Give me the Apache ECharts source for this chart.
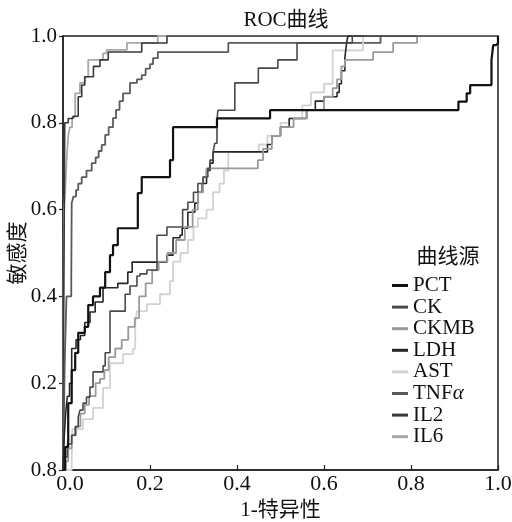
<!DOCTYPE html>
<html>
<head>
<meta charset="utf-8">
<script src="https://cdn.jsdelivr.net/npm/echarts@6/dist/echarts.min.js"></script>
<style>
html,body{margin:0;padding:0;background:#fff;}
#container{width:512px;height:522px;}
</style>
</head>
<body>
<div id="container"></div>
<script>
// 曲线名称与颜色
var curveNames = ['PCT', 'CK', 'CKMB', 'LDH', 'AST', 'TNFα', 'IL2', 'IL6'];
var curveColors = ['#111111', '#4a4a4a', '#9a9a9a', '#262626', '#d2d2d2', '#5a5a5a', '#383838', '#a8a8a8'];
var curveWidths = [2.2, 1.6, 1.8, 1.6, 1.8, 1.8, 1.6, 1.8];

// 刻度
var xTickLabels = ['0.0', '0.2', '0.4', '0.6', '0.8', '1.0'];
var yTickLabels = ['0.8', '0.2', '0.4', '0.6', '0.8', '1.0'];

// [1-特异性, 敏感度]
var pctRoc = [[0,0],[0.005,0.053],[0.012,0.154],[0.02,0.23],[0.028,0.27],[0.035,0.316],[0.05,0.33],[0.058,0.38],
	[0.069,0.40],[0.085,0.42],[0.097,0.456],[0.108,0.495],[0.115,0.518],[0.126,0.557],[0.172,0.638],[0.181,0.675],
	[0.246,0.714],[0.253,0.79],[0.354,0.81],[0.476,0.829],[0.909,0.849],[0.928,0.868],[0.936,0.887],[0.985,0.945],
	[0.989,0.979],[0.995,0.983],[1,1]];
var ckRoc = [[0,0],[0.005,0.03],[0.01,0.06],[0.02,0.08],[0.028,0.1],[0.035,0.122],[0.039,0.138],[0.046,0.154],
	[0.054,0.168],[0.062,0.191],[0.069,0.226],[0.092,0.24],[0.097,0.27],[0.108,0.366],[0.143,0.405],[0.154,0.424],
	[0.17,0.447],[0.177,0.452],[0.193,0.461],[0.216,0.541],[0.239,0.56],[0.275,0.6],[0.287,0.617],[0.3,0.64],
	[0.31,0.66],[0.322,0.675],[0.333,0.695],[0.338,0.714],[0.345,0.733],[0.349,0.753],[0.354,0.806],[0.356,0.829],
	[0.395,0.892],[0.449,0.926],[0.494,0.945],[0.538,0.984],[0.665,1],[1,1]];
var ckmbRoc = [[0,0],[0.006,0.02],[0.012,0.05],[0.02,0.08],[0.03,0.1],[0.04,0.13],[0.05,0.15],[0.06,0.17],
	[0.075,0.2],[0.085,0.21],[0.095,0.23],[0.105,0.26],[0.12,0.28],[0.135,0.3],[0.15,0.33],[0.165,0.35],
	[0.175,0.4],[0.19,0.43],[0.205,0.46],[0.22,0.48],[0.24,0.5],[0.26,0.53],[0.28,0.56],[0.298,0.6],
	[0.31,0.64],[0.322,0.675],[0.33,0.695],[0.448,0.714],[0.46,0.74],[0.48,0.77],[0.5,0.79],[0.53,0.81],
	[0.56,0.83],[0.6,0.86],[0.62,0.88],[0.63,0.9],[0.64,0.93],[0.648,0.945],[0.713,0.963],[0.759,0.984],
	[0.814,1],[1,1]];
var ldhRoc = [[0,0],[0.003,0.08],[0.006,0.13],[0.01,0.17],[0.015,0.2],[0.02,0.28],[0.03,0.3],[0.04,0.31],
	[0.05,0.34],[0.062,0.364],[0.074,0.387],[0.092,0.42],[0.126,0.43],[0.149,0.456],[0.159,0.479],[0.239,0.495],
	[0.253,0.535],[0.269,0.541],[0.274,0.557],[0.287,0.594],[0.303,0.615],[0.31,0.64],[0.32,0.66],[0.33,0.69],
	[0.338,0.707],[0.345,0.733],[0.47,0.75],[0.48,0.77],[0.5,0.79],[0.52,0.81],[0.56,0.83],[0.58,0.85],
	[0.6,0.86],[0.63,0.87],[0.635,0.89],[0.64,0.92],[0.648,0.95],[0.652,0.984],[0.655,1],[1,1]];
var astRoc = [[0,0],[0.02,0.016],[0.021,0.094],[0.046,0.117],[0.069,0.143],[0.092,0.189],[0.108,0.246],
	[0.138,0.267],[0.161,0.279],[0.166,0.339],[0.17,0.366],[0.193,0.382],[0.223,0.405],[0.246,0.435],[0.253,0.48],
	[0.27,0.5],[0.287,0.53],[0.3,0.56],[0.31,0.58],[0.33,0.6],[0.345,0.64],[0.36,0.66],[0.37,0.69],[0.38,0.733],
	[0.45,0.75],[0.47,0.77],[0.5,0.8],[0.52,0.81],[0.55,0.84],[0.57,0.87],[0.6,0.89],[0.62,0.967],[0.69,1],[1,1]];
var tnfRoc = [[0,0],[0.002,0.12],[0.004,0.25],[0.008,0.40],[0.019,0.44],[0.02,0.615],[0.024,0.63],[0.03,0.645],
	[0.035,0.66],[0.043,0.675],[0.054,0.69],[0.066,0.707],[0.075,0.72],[0.082,0.735],[0.089,0.749],[0.097,0.772],
	[0.105,0.79],[0.115,0.811],[0.122,0.83],[0.13,0.85],[0.138,0.868],[0.154,0.892],[0.17,0.9],[0.181,0.91],
	[0.19,0.925],[0.2,0.935],[0.207,0.949],[0.218,0.963],[0.38,0.984],[0.73,1],[1,1]];
var il2Roc = [[0,0],[0.001,0.3],[0.003,0.6],[0.004,0.8],[0.012,0.81],[0.023,0.815],[0.035,0.86],[0.043,0.887],
	[0.05,0.906],[0.07,0.93],[0.085,0.945],[0.104,0.963],[0.181,0.984],[0.239,1],[1,1]];
var il6Roc = [[0,0],[0.002,0.604],[0.005,0.64],[0.008,0.71],[0.012,0.77],[0.016,0.79],[0.021,0.813],[0.028,0.868],
	[0.039,0.892],[0.05,0.906],[0.058,0.945],[0.092,0.96],[0.1,0.968],[0.147,0.984],[0.218,1],[1,1]];

var curveData = [pctRoc, ckRoc, ckmbRoc, ldhRoc, astRoc, tnfRoc, il2Roc, il6Roc];

var fontLatin = "'Liberation Serif', 'Noto Sans CJK SC', serif";

var dom = document.getElementById('container');
var myChart = echarts.init(dom, null, {renderer: 'canvas'});

var series = [];
for (var i = curveNames.length - 1; i >= 0; i--) {
	series.push({
		name: curveNames[i],
		type: 'line',
		step: 'end',
		symbol: 'none',
		showSymbol: false,
		z: i === 0 ? 10 : 2,
		itemStyle: {color: curveColors[i]},
		lineStyle: {color: curveColors[i], width: curveWidths[i]},
		data: curveData[i]
	});
}

var option = {
	animation: false,
	backgroundColor: '#fff',
	title: [{
		text: 'ROC曲线',
		left: 281,
		top: 5,
		textAlign: 'center',
		textStyle: {fontFamily: fontLatin, fontSize: 21, fontWeight: 'normal', color: '#111'}
	}, {
		text: '曲线源',
		left: 443,
		top: 242,
		textAlign: 'center',
		textStyle: {fontFamily: fontLatin, fontSize: 21, fontWeight: 'normal', color: '#111'}
	}],
	legend: {
		orient: 'vertical',
		left: 387,
		top: 270,
		icon: 'rect',
		itemWidth: 16,
		itemHeight: 3,
		itemGap: 0.6,
		data: curveNames,
		formatter: function (name) {
			return name === 'TNFα' ? '{n|TNF}{i|α}' : name;
		},
		textStyle: {
			fontFamily: fontLatin, fontSize: 21, color: '#111', lineHeight: 21,
			rich: {
				n: {fontFamily: fontLatin, fontSize: 21, color: '#111', lineHeight: 21},
				i: {fontFamily: fontLatin, fontSize: 21, color: '#111', fontStyle: 'italic', lineHeight: 21}
			}
		}
	},
	grid: {
		left: 63,
		top: 36,
		right: 14,
		bottom: 52,
		show: true,
		borderColor: '#222',
		borderWidth: 1.5,
		containLabel: false,
		outerBoundsMode: 'none'
	},
	xAxis: {
		type: 'value',
		min: 0,
		max: 1,
		interval: 0.2,
		name: '1-特异性',
		nameLocation: 'middle',
		nameGap: 30,
		nameMoveOverlap: false,
		nameTextStyle: {fontFamily: fontLatin, fontSize: 21, color: '#111'},
		axisLine: {show: true, lineStyle: {color: '#222', width: 1.5}},
		axisTick: {show: true, inside: true, length: 5, lineStyle: {color: '#222', width: 1.2}},
		splitLine: {show: false},
		axisLabel: {
			margin: 3,
			color: '#111',
			fontFamily: fontLatin,
			fontSize: 22,
			alignMinLabel: 'center',
			alignMaxLabel: 'center',
			formatter: function (v) {
				var idx = Math.round(v / 0.2);
				return idx === 0 ? '{f|' + xTickLabels[0] + '}' : xTickLabels[idx];
			},
			rich: {
				f: {fontFamily: fontLatin, fontSize: 22, color: '#111', padding: [0, 0, 0, 14]}
			}
		}
	},
	yAxis: {
		type: 'value',
		min: 0,
		max: 1,
		interval: 0.2,
		name: '敏感度',
		nameLocation: 'middle',
		nameGap: 34,
		nameRotate: 90,
		nameMoveOverlap: false,
		nameTextStyle: {fontFamily: fontLatin, fontSize: 21, color: '#111'},
		axisLine: {show: true, lineStyle: {color: '#222', width: 1.5}},
		axisTick: {show: true, inside: false, length: 4, lineStyle: {color: '#222', width: 1.2}},
		splitLine: {show: false},
		axisLabel: {
			margin: 6,
			color: '#111',
			fontFamily: fontLatin,
			fontSize: 21,
			verticalAlignMinLabel: 'middle',
			verticalAlignMaxLabel: 'middle',
			formatter: function (v) {
				return yTickLabels[Math.round(v / 0.2)];
			}
		}
	},
	series: series
};

myChart.setOption(option, true);
</script>
</body>
</html>
